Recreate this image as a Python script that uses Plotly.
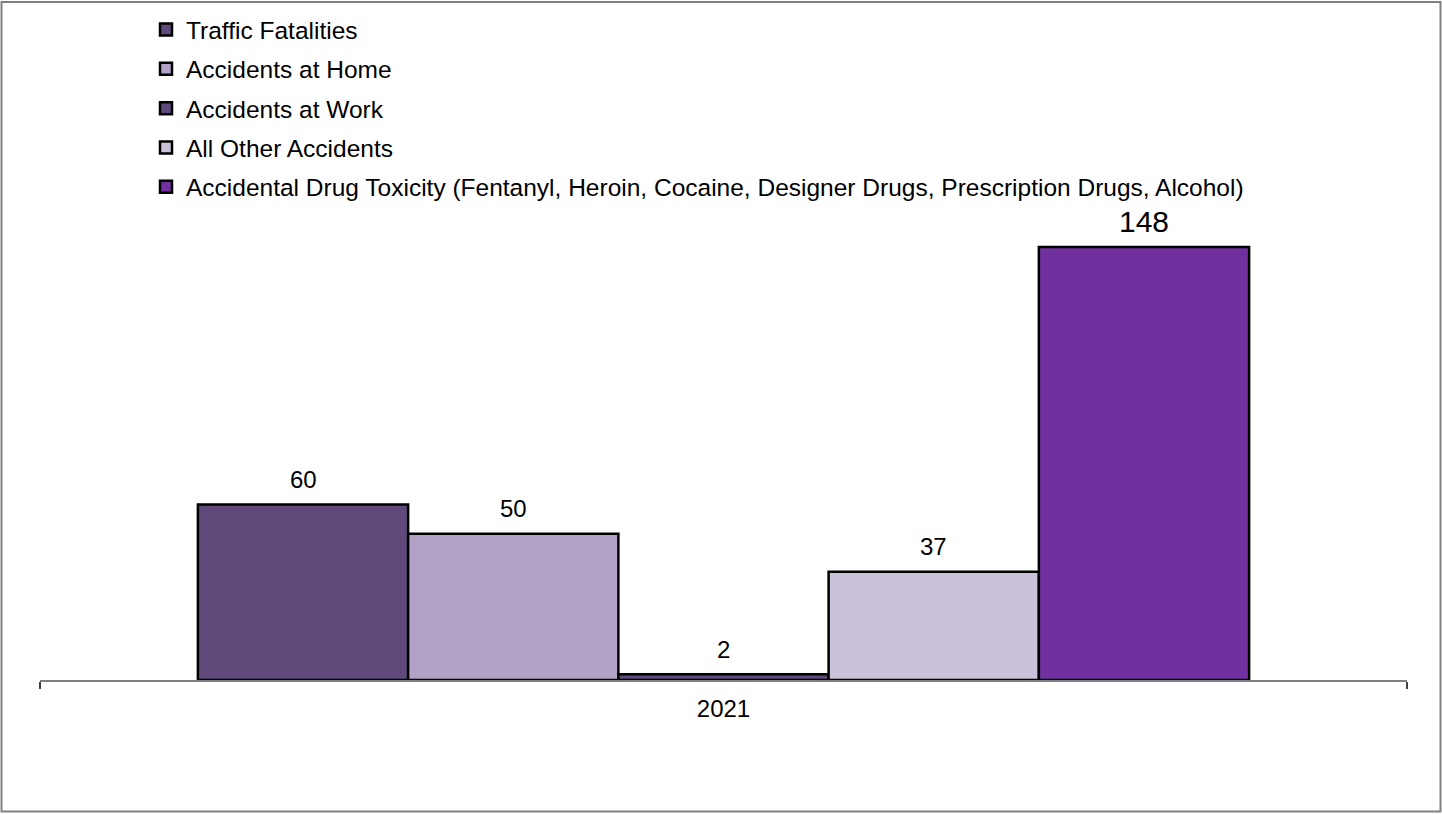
import plotly.graph_objects as go

categories = ["2021"]
series_names = [
    "Traffic Fatalities",
    "Accidents at Home",
    "Accidents at Work",
    "All Other Accidents",
    "Accidental Drug Toxicity (Fentanyl, Heroin, Cocaine, Designer Drugs, Prescription Drugs, Alcohol)",
]
series_values = [60, 50, 2, 37, 148]
series_colors = ["#604A7B", "#B3A2C7", "#604A7B", "#CCC1DA", "#7030A0"]
label_sizes = [24, 24, 24, 24, 30]

FONT = "Liberation Sans, Arial, sans-serif"
W, H = 1442, 814
L, R, T, B = 40, 35, 200, 134
plot_w = W - L - R
plot_h = H - T - B
BARGAP = 0.231
YMAX = 164.05

fig = go.Figure()
for i, (name, val, col) in enumerate(zip(series_names, series_values, series_colors)):
    fig.add_trace(go.Bar(
        x=categories, y=[val], name=name, legendgroup=f"g{i}",
        marker=dict(color=col, line=dict(color="black", width=2.5)),
        hoverinfo="skip",
    ))

n = len(series_values)
bw = (1 - BARGAP) / n
annotations = []
for i, val in enumerate(series_values):
    xc = -0.5 + BARGAP / 2 + (i + 0.5) * bw
    annotations.append(dict(
        x=xc, y=val, xref="x", yref="y", text=str(val), showarrow=False,
        yanchor="middle", yshift=25,
        font=dict(family=FONT, size=label_sizes[i], color="black"),
    ))

def px_x(p):
    return (p - L) / plot_w

def px_y(p):
    return (H - B - p) / plot_h

fig.update_layout(
    width=W, height=H,
    margin=dict(l=L, r=R, t=T, b=B, autoexpand=False),
    paper_bgcolor="white", plot_bgcolor="white",
    barmode="group", bargap=BARGAP, bargroupgap=0,
    font=dict(family=FONT, size=24, color="black"),
    showlegend=True,
    legend=dict(
        x=px_x(146), y=px_y(7), xanchor="left", yanchor="top",
        font=dict(family=FONT, size=24.5, color="black"),
        tracegroupgap=4.5, bgcolor="rgba(0,0,0,0)",
        traceorder="grouped",
    ),
    xaxis=dict(
        type="category", range=[-0.5, 0.5],
        showline=True, linecolor="#808080", linewidth=2,
        ticks="outside", tickson="boundaries", ticklen=7, tickcolor="#404040", tickwidth=2,
        showgrid=False, zeroline=False,
        tickfont=dict(family=FONT, size=24, color="black"),
        ticklabelstandoff=6,
    ),
    yaxis=dict(
        range=[0, YMAX], visible=False, showgrid=False, zeroline=False,
    ),
    annotations=annotations,
    shapes=[dict(
        type="rect", xref="paper", yref="paper",
        x0=px_x(1.5), x1=px_x(1440.5), y0=px_y(811.5), y1=px_y(2),
        line=dict(color="#808080", width=2), fillcolor="rgba(0,0,0,0)",
        layer="above",
    )],
)

fig.write_html("out.html")
